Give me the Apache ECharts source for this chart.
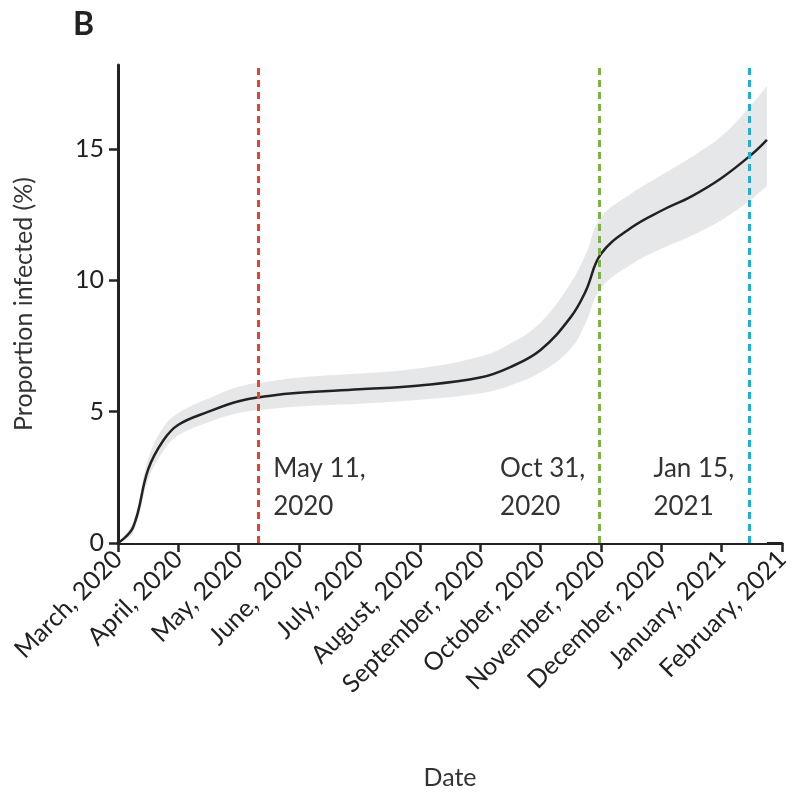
<!DOCTYPE html><html><head><meta charset="utf-8"><script src="https://cdn.jsdelivr.net/npm/echarts@6/dist/echarts.min.js"></script></head><body style="margin:0"><div id="c" style="width:800px;height:796px"></div><script>
const monthLabels=['March, 2020','April, 2020','May, 2020','June, 2020','July, 2020','August, 2020','September, 2020','October, 2020','November, 2020','December, 2020','January, 2021','February, 2021'];
const xs=[0,0.25,0.5,0.75,1,1.5,2,2.5,3,4,5,6,6.5,7,7.5,7.75,8,8.5,9,9.5,10,10.5,10.75];
const mean=[0,0.6,2.8,3.9,4.5,5.0,5.4,5.6,5.72,5.85,6.0,6.3,6.7,7.35,8.6,9.6,11.0,12.0,12.65,13.2,13.9,14.8,15.35];
const lower=[0,0.4,2.4,3.5,4.1,4.6,4.95,5.1,5.2,5.3,5.45,5.7,6.0,6.5,7.4,8.4,9.7,10.6,11.2,11.7,12.3,13.1,13.6];
const upper=[0,0.8,3.2,4.4,4.95,5.5,5.95,6.15,6.3,6.45,6.65,7.1,7.6,8.4,9.9,11.0,12.4,13.3,14.0,14.7,15.5,16.7,17.4];
const events=[{x:2.32,c:'#e8412c',t:'May 11,\n2020',lx:2.57},{x:7.97,c:'#7cb342',t:'Oct 31,\n2020',lx:6.33},{x:10.45,c:'#1ab0d8',t:'Jan 15,\n2021',lx:8.87}];
const z=a=>xs.map((x,i)=>[x,a[i]]);
const ch=echarts.init(document.getElementById('c'));
const F='Lato, "Open Sans", sans-serif';
ch.setOption({animation:false,
title:{text:'B',left:68,top:4,textStyle:{fontSize:32,fontWeight:'bold',color:'#222',fontFamily:F}},
grid:{left:118,right:18,top:65,bottom:253},
xAxis:{type:'value',min:0,max:11,interval:1,name:'Date',nameLocation:'middle',nameGap:222,nameTextStyle:{fontSize:25,color:'#333',fontFamily:F},
axisLine:{lineStyle:{color:'#222',width:3}},axisTick:{length:9,lineStyle:{width:2.5,color:'#222'}},splitLine:{show:false},
axisLabel:{rotate:45,fontSize:25,color:'#222',fontFamily:F,margin:12,formatter:v=>monthLabels[v]}},
yAxis:{type:'value',min:0,max:18.2,interval:5,name:'Proportion infected (%)',nameLocation:'middle',nameGap:82,nameTextStyle:{fontSize:25,color:'#333',fontFamily:F},
axisLine:{show:true,lineStyle:{color:'#222',width:3}},axisTick:{show:true,length:9,lineStyle:{width:2.5,color:'#222'}},splitLine:{show:false},
axisLabel:{fontSize:25,color:'#222',fontFamily:F,margin:14,showMaxLabel:false,formatter:v=>v>18?'':v}},
series:[
{type:'line',data:z(upper),symbol:'none',smooth:0.4,lineStyle:{width:0},areaStyle:{color:'#e6e7e9',opacity:1},silent:true,z:1},
{type:'line',data:z(lower),symbol:'none',smooth:0.4,lineStyle:{width:0},areaStyle:{color:'#ffffff',opacity:1},silent:true,z:1},
{type:'line',data:z(mean),symbol:'none',smooth:0.4,lineStyle:{color:'#222',width:2.5},z:3,
markLine:{symbol:'none',silent:true,label:{show:false},data:events.map(e=>({xAxis:e.x,lineStyle:{color:e.c,type:[7,5],width:3}}))},
markPoint:{symbol:'circle',symbolSize:0,data:events.map(e=>({coord:[e.lx,2.1],label:{show:true,formatter:e.t,position:'right',distance:0,fontSize:26,lineHeight:38,color:'#333',fontFamily:F}}))}}
]});
</script></body></html>
